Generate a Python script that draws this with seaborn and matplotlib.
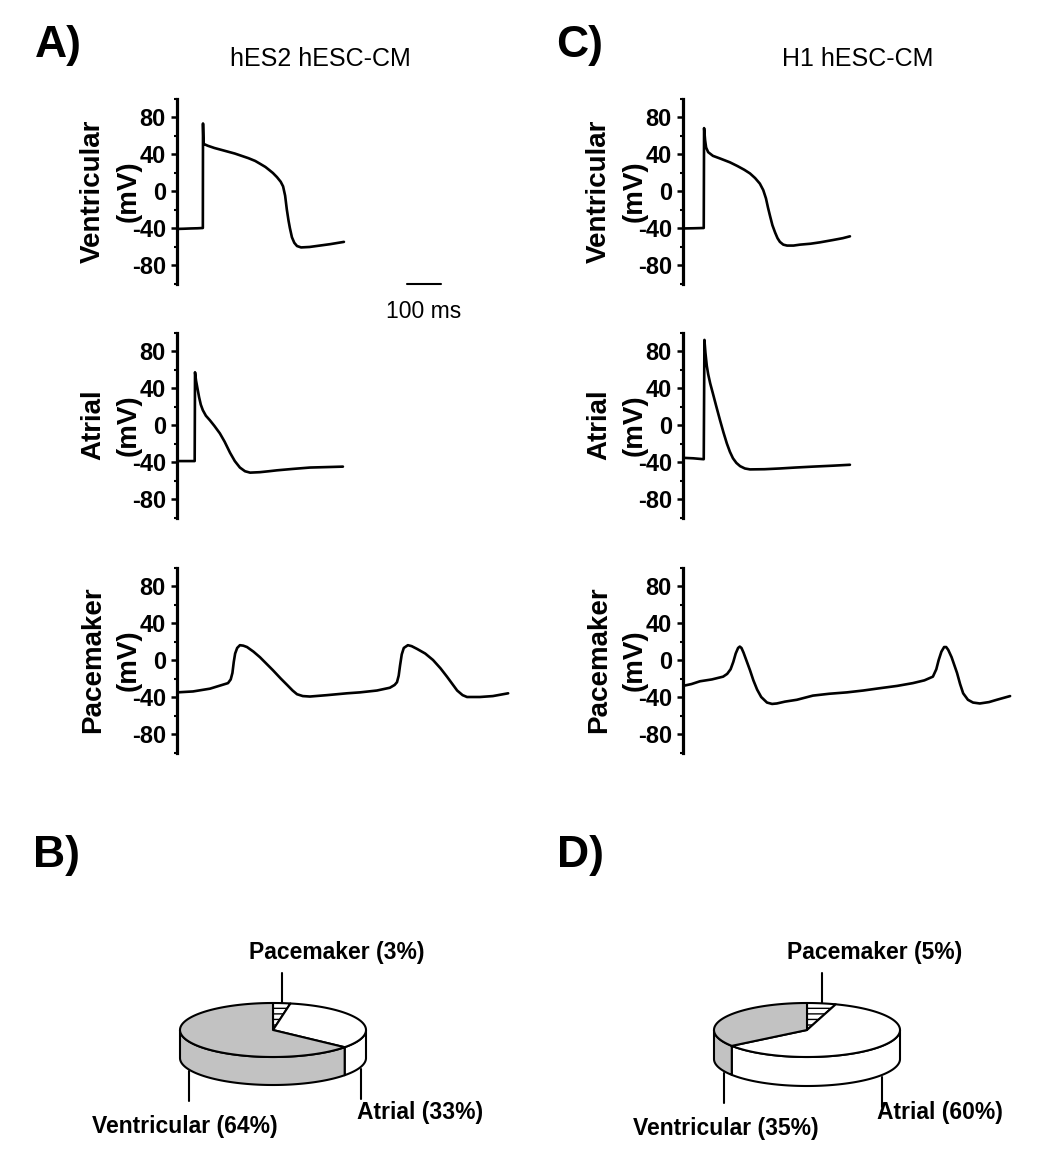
import numpy as np
import matplotlib
matplotlib.use("Agg")
import matplotlib.pyplot as plt
import seaborn as sns
from matplotlib.patches import Polygon
from matplotlib.ticker import MultipleLocator

sns.set_style("white")
plt.rcParams['font.family'] = ['Liberation Sans', 'DejaVu Sans']
plt.rcParams['text.color'] = 'black'
plt.rcParams['ytick.color'] = 'black'
plt.rcParams['axes.unicode_minus'] = False

# ---------------- data (time in ms, membrane potential in mV) ----------------
vent_A_t = [0, 20, 40, 60, 76, 76.5, 78, 90, 110, 130, 150, 170, 190, 210, 230, 244, 260, 272, 282, 294,
            305, 312, 318, 323, 328, 332, 338, 345, 353, 365, 390, 420, 450, 491]
vent_A_mv = [-41, -40.8, -40.5, -40.3, -40, 73, 51, 49, 46.5, 44.5, 42.5, 40.5, 38, 35.5, 32.5, 29.5, 26, 22.5, 19.5, 15,
             10, 5, -5, -20, -32, -40, -50, -56, -59.5, -61, -60.5, -59, -57.5, -55]

atr_A_t = [0, 25, 52, 53, 56, 60, 65, 70, 76, 85, 97, 110, 126, 140, 156, 170, 185, 200, 215, 244,
           270, 294, 340, 391, 440, 488]
atr_A_mv = [-39, -39, -39, 57, 48, 40, 30, 22, 16, 10, 5, -1, -9, -18, -30, -39, -46, -50, -51.5, -51,
            -50, -49, -47.5, -46, -45.5, -45]

pace_A_t = [0, 47, 97, 150, 158, 163, 167, 171, 177, 185, 195, 206, 225, 244, 282, 305, 324, 340, 353, 370,
            391, 441, 500, 538, 588, 626, 640, 647, 652, 656, 661, 667, 679, 690, 706, 730, 753, 775, 794, 810,
            824, 840, 853, 891, 929, 974]
pace_A_mv = [-35, -34, -31, -25, -21, -14, -2, 7, 13, 16, 15.5, 14, 9, 3, -11, -20, -27, -33, -37, -39,
             -39.5, -38, -36, -35, -33, -30, -27, -24, -17, -6, 6, 13, 16, 15, 12, 7, 0, -9, -18, -26,
             -33, -38, -40, -40, -39, -36]

vent_C_t = [0, 30, 61, 62, 65, 68, 74, 88, 110, 138, 160, 180, 197, 212, 226, 236, 244, 250, 256, 263,
            271, 278, 285, 295, 306, 325, 344, 375, 403, 441, 470, 491]
vent_C_mv = [-40.5, -40.3, -40, 68, 55, 47, 42, 38, 35, 31, 27, 23, 19, 14, 8, 1, -8, -18, -27, -37,
             -45, -51, -55, -58, -59, -59, -58, -57, -55.5, -53, -51, -49]

atr_C_t = [0, 30, 61, 63, 66, 70, 74, 80, 88, 98, 109, 119, 129, 138, 147, 157, 168, 182, 197, 240,
           285, 330, 382, 440, 491]
atr_C_mv = [-35.5, -36, -37, 92, 78, 64, 55, 45, 34, 20, 5, -8, -20, -29, -36, -41, -44.5, -47, -48, -47.8,
            -47, -46, -45, -44, -43]

pace_C_t = [0, 25, 50, 85, 118, 130, 140, 148, 155, 162, 167, 172, 178, 188, 197, 207, 218, 230, 247, 262,
            276, 300, 335, 382, 430, 482, 530, 579, 630, 676, 710, 735, 745, 752, 760, 768, 774, 780, 790, 806,
            815, 824, 838, 853, 873, 900, 923, 962]
pace_C_mv = [-28, -26, -23, -21, -18, -15, -10, -2, 7, 13, 14.5, 13, 8, -2, -11, -22, -32, -40, -46, -47.5,
             -47, -45, -43, -38.5, -36.5, -35, -33, -30.5, -28, -25, -22, -18, -10, 0, 9, 14, 14, 11, 3, -14,
             -26, -36, -43, -46, -47, -45.5, -43, -39]

row_names = ["Ventricular", "Atrial", "Pacemaker"]
y_ticks = [-80, -40, 0, 40, 80]
scalebar_ms = 100

pie_names = ["Pacemaker", "Atrial", "Ventricular"]
pie_B_pct = [3, 33, 64]
pie_D_pct = [5, 60, 35]

titles = ["hES2 hESC-CM", "H1 hESC-CM"]
panel_letters = ["A)", "B)", "C)", "D)"]

# ---------------- layout helpers ----------------
W, H = 1050, 1155
fig = plt.figure(figsize=(W / 100, H / 100), dpi=100)

ov = fig.add_axes([0, 0, 1, 1])
ov.set_xlim(0, W)
ov.set_ylim(H, 0)
ov.axis('off')


def px_axes(left, top, w, h):
    return fig.add_axes([left / W, 1 - (top + h) / H, w / W, h / H])


AX_W = 343
ROW_TOPS = [98.5, 332.5, 567.5]
ROW_H = 185
T_MAX = AX_W * 100 / 34.0

panels = [
    (177, [(vent_A_t, vent_A_mv), (atr_A_t, atr_A_mv), (pace_A_t, pace_A_mv)]),
    (683, [(vent_C_t, vent_C_mv), (atr_C_t, atr_C_mv), (pace_C_t, pace_C_mv)]),
]

first_ax = None
for left, traces in panels:
    for r, (t, mv) in enumerate(traces):
        ax = px_axes(left, ROW_TOPS[r], AX_W, ROW_H)
        ax.patch.set_alpha(0)
        sns.lineplot(x=t, y=mv, ax=ax, color='black', lw=1.9, estimator=None, sort=False)
        ax.set_xlim(0, T_MAX)
        ax.set_ylim(-100, 100)
        for s in ['top', 'right', 'bottom']:
            ax.spines[s].set_visible(False)
        ax.spines['left'].set_linewidth(2.3)
        ax.spines['left'].set_color('black')
        ax.set_xticks([])
        ax.set_yticks(y_ticks)
        ax.yaxis.set_minor_locator(MultipleLocator(20))
        ax.tick_params(axis='y', which='major', direction='out', length=4, width=1.8,
                       labelsize=17, pad=4, left=True, colors='black')
        ax.tick_params(axis='y', which='minor', direction='out', length=2.2, width=1.5, left=True)
        for lab in ax.get_yticklabels():
            lab.set_fontweight('bold')
        ax.text(-84 / AX_W, 0.5, row_names[r], transform=ax.transAxes, rotation=90,
                ha='center', va='center', fontsize=20, fontweight='bold')
        ax.text(-48 / AX_W, 0.5, "(mV)", transform=ax.transAxes, rotation=90,
                ha='center', va='center', fontsize=20, fontweight='bold')
        if first_ax is None:
            first_ax = ax

# scale bar in first panel
sb_start = (407 - 177) * 100 / 34.0
first_ax.plot([sb_start, sb_start + scalebar_ms], [-101, -101], color='black', lw=1.5, clip_on=False)
first_ax.text(sb_start + scalebar_ms / 2, -130, f"{scalebar_ms} ms", ha='center', va='center',
              fontsize=16.5, clip_on=False)

# titles and panel letters
ov.text(320, 59, titles[0], ha='center', va='center', fontsize=18)
ov.text(858, 59, titles[1], ha='center', va='center', fontsize=18)
for letter, (x, y) in zip(panel_letters, [(58, 45), (57, 855), (580, 45), (580, 855)]):
    ov.text(x, y, letter, ha='center', va='center', fontsize=32, fontweight='bold')

# ---------------- 3D pies ----------------
slice_face = ['white', 'white', '#c2c2c2']
slice_hatch = ['---', None, None]


def draw_pie(ax, pct, cx, cy, a, b, depth, label_pos, start=90.0):
    spans = []
    th = start
    for p in pct:
        sp = 360.0 * p / 100.0
        spans.append((th - sp, th))
        th -= sp
    # side walls (front half)
    for (lo, hi), fc, hh in zip(spans, slice_face, slice_hatch):
        for k in (-1, 0, 1):
            s_lo = max(lo, 180 + 360 * k)
            s_hi = min(hi, 360 + 360 * k)
            if s_hi > s_lo:
                tt = np.radians(np.linspace(s_lo, s_hi, 120))
                x = cx + a * np.cos(tt)
                y = cy - b * np.sin(tt)
                pts = np.column_stack([np.r_[x, x[::-1]], np.r_[y, y[::-1] + depth]])
                ax.add_patch(Polygon(pts, closed=True, fc=fc, ec='black', lw=1.5,
                                     hatch=hh, joinstyle='round'))
    # top faces
    for (lo, hi), fc, hh in zip(spans, slice_face, slice_hatch):
        tt = np.radians(np.linspace(lo, hi, 240))
        x = cx + a * np.cos(tt)
        y = cy - b * np.sin(tt)
        pts = np.vstack([[cx, cy], np.column_stack([x, y])])
        ax.add_patch(Polygon(pts, closed=True, fc=fc, ec='black', lw=1.5,
                             hatch=hh, joinstyle='round'))
    # leader lines + labels
    for (lo, hi), name, p, (lx, ly) in zip(spans, pie_names, pct, label_pos):
        m = np.radians((lo + hi) / 2)
        x = cx + a * np.cos(m)
        if np.sin(m) > 0.9:
            y0 = cy - b * np.sin(m)
            ax.plot([x, x], [y0, y0 - 30], color='black', lw=1.5)
        else:
            y0 = cy + b * np.sqrt(max(0.0, 1 - ((x - cx) / a) ** 2)) + depth
            ax.plot([x, x], [y0 + 2, y0 + 32], color='black', lw=1.5)
        ax.text(lx, ly, f"{name} ({p}%)", ha='center', va='center', fontsize=16.5,
                fontweight='bold')


draw_pie(ov, pie_B_pct, 273, 1030, 93, 27, 28, [(337, 952), (420, 1112), (185, 1127)])
draw_pie(ov, pie_D_pct, 807, 1030, 93, 27, 29, [(875, 952), (940, 1112), (726, 1128)])

fig.savefig("out.png", dpi=100)
